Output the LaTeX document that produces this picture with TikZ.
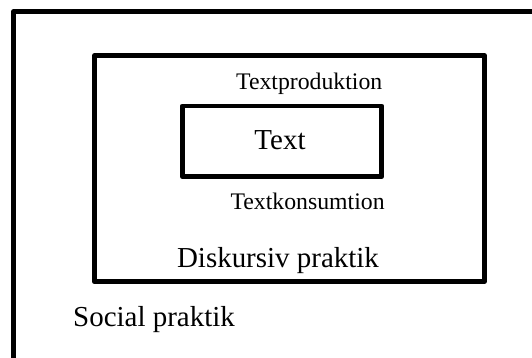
\documentclass[tikz,border=0pt]{standalone}
\usepackage{fontspec}
\setmainfont{Liberation Serif}
\usepackage{tkz-euclide}

\tikzset{
  big/.style={font=\fontsize{20.6}{24}\selectfont,anchor=base,inner sep=0pt},
  small/.style={font=\fontsize{16.9}{20}\selectfont,anchor=base,inner sep=0pt}
}

\begin{document}
\begin{tikzpicture}[line join=round]
    \useasboundingbox (0,0) rectangle (13.3,8.95);
    \clip (0,0) rectangle (13.3,8.95);
    \tkzDefPoints{0.34/8.66/S1,13.6/8.66/S2,13.6/-0.3/S3,0.34/-0.3/S4}
    \tkzDefPoints{2.36/7.56/D1,12.11/7.56/D2,12.11/1.91/D3,2.36/1.91/D4}
    \tkzDefPoints{4.56/6.30/T1,9.54/6.30/T2,9.54/4.53/T3,4.56/4.53/T4}
    \tkzDrawPolygon[line width=3.5pt](S1,S2,S3,S4)
    \tkzDrawPolygon[line width=3.5pt](D1,D2,D3,D4)
    \tkzDrawPolygon[line width=3.5pt](T1,T2,T3,T4)
    \node[small] (prod) at (7.73,6.70) {Textproduktion};
    \node[big] (text) at (7.00,5.22) {Text};
    \node[small] (kons) at (7.69,3.70) {Textkonsumtion};
    \node[big] (disk) at (6.95,2.25) {Diskursiv praktik};
    \node[big] (soc) at (3.85,0.78) {Social praktik};
\end{tikzpicture}
\end{document}
